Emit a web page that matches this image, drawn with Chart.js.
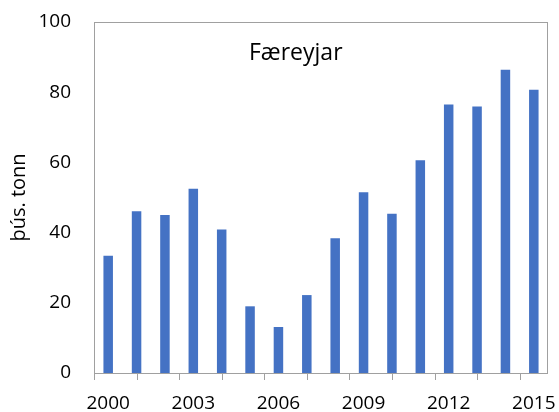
<!DOCTYPE html>
<html>
<head>
<meta charset="utf-8">
<script src="https://cdn.jsdelivr.net/npm/chart.js@4"></script>
<style>
  html, body { margin: 0; padding: 0; background: #fff; }
  #wrap { width: 559px; height: 412px; }
</style>
</head>
<body>
<div id="wrap"><canvas id="c" width="559" height="412"></canvas></div>
<script>
const years = ['2000', '2001', '2002', '2003', '2004', '2005', '2006', '2007',
  '2008', '2009', '2010', '2011', '2012', '2013', '2014', '2015']
const catch_ = [33.4, 46.1, 45.0, 52.5, 40.9, 19.0, 13.1, 22.2,
  38.4, 51.5, 45.4, 60.6, 76.5, 75.9, 86.4, 80.7]
const yTicks = [0, 20, 40, 60, 80, 100]
const chartTitle = 'Færeyjar'
const yTitle = 'þús. tonn'

const FONT = '"Open Sans", "Liberation Sans", sans-serif'
const GRAY = '#a0a0a0'

// frame around the plot, small tick marks every 1.5 years, title inside the plot
const framePlugin = {
  id: 'frame',
  afterDraw (chart) {
    const ctx = chart.ctx
    const a = chart.chartArea
    const x = chart.scales.x
    ctx.save()
    ctx.strokeStyle = GRAY
    ctx.lineWidth = 1
    ctx.strokeRect(Math.round(a.left) + 0.5, Math.round(a.top) + 0.5,
      Math.round(a.right - a.left) - 1, Math.round(a.bottom - a.top))
    ctx.beginPath()
    for (let v = -0.5; v < years.length - 1; v += 1.5) {
      const px = Math.round(x.getPixelForValue(v)) + 0.5
      ctx.moveTo(px, a.bottom)
      ctx.lineTo(px, a.bottom + 7)
    }
    ctx.stroke()
    ctx.fillStyle = '#000'
    ctx.font = '23px ' + FONT
    ctx.textBaseline = 'alphabetic'
    ctx.fillText(chartTitle, a.left + 155, a.top + 38)
    ctx.restore()
  }
}

new Chart(document.getElementById('c'), {
  type: 'bar',
  data: {
    labels: years,
    datasets: [{
      data: catch_,
      backgroundColor: '#4472C4',
      borderWidth: 0,
      barPercentage: 0.335,
      categoryPercentage: 1
    }]
  },
  options: {
    responsive: false,
    animation: false,
    devicePixelRatio: 1,
    layout: { padding: { top: 22, right: 11, left: 0, bottom: 0 } },
    plugins: { legend: { display: false }, tooltip: { enabled: false } },
    scales: {
      x: {
        grid: { display: false, drawTicks: false },
        border: { display: false },
        ticks: {
          autoSkip: false,
          maxRotation: 0,
          padding: 19,
          color: '#000',
          font: { family: FONT, size: 19 },
          callback: (v, i) => (i % 3 === 0 ? years[i] : '')
        },
        afterFit: s => {
          s.height = 39
          s.paddingLeft = 0
          s.paddingRight = 0
        }
      },
      y: {
        min: 0,
        max: 100,
        afterBuildTicks: s => { s.ticks = yTicks.map(v => ({ value: v })) },
        grid: { display: false, drawTicks: false },
        border: { display: false },
        ticks: { padding: 23, color: '#000', font: { family: FONT, size: 19 } },
        title: {
          display: true,
          text: yTitle,
          color: '#000',
          font: { family: FONT, size: 20 },
          padding: { top: 7, bottom: 0 }
        },
        afterFit: s => {
          s.width = 94
          s.paddingTop = 0
          s.paddingBottom = 0
        }
      }
    }
  },
  plugins: [framePlugin]
})
</script>
</body>
</html>
